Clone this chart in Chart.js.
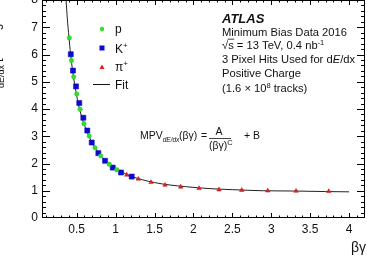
<!DOCTYPE html>
<html>
<head>
<meta charset="utf-8">
<script src="https://cdn.jsdelivr.net/npm/chart.js@4.4.0/dist/chart.umd.min.js"></script>
<style>
  html, body { margin: 0; padding: 0; background: #fff; }
  canvas { display: block; }
</style>
</head>
<body>
<canvas id="c" width="367" height="265"></canvas>
<script>
const FONT = '"Liberation Sans", Arial, Helvetica, sans-serif';

// 坐标轴刻度
const xTicks = [0.5, 1, 1.5, 2, 2.5, 3, 3.5, 4];
const yTicks = [0, 1, 2, 3, 4, 5, 6, 7, 8];

// βγ 与 MPV 读数
const pBG  = [0.405, 0.432, 0.461, 0.500, 0.543, 0.594, 0.661, 0.735, 0.808, 0.919, 1.014];
const pMPV = [6.61, 5.78, 5.18, 4.55, 3.99, 3.46, 3.01, 2.58, 2.28, 1.97, 1.77];

const kBG  = [0.424, 0.452, 0.491, 0.533, 0.585, 0.636, 0.693, 0.778, 0.864, 0.963, 1.069, 1.207];
const kMPV = [6.01, 5.41, 4.83, 4.22, 3.68, 3.21, 2.77, 2.38, 2.10, 1.85, 1.67, 1.52];

const piBG  = [1.143, 1.292, 1.455, 1.635, 1.837, 2.072, 2.329, 2.621, 2.955, 3.319, 3.739];
const piMPV = [1.58, 1.43, 1.31, 1.21, 1.14, 1.09, 1.04, 1.02, 1.00, 0.99, 0.98];

// 拟合曲线（沿曲线估读的点）
const fitBG  = [0.363, 0.38, 0.40, 0.42, 0.45, 0.48, 0.52, 0.56, 0.60, 0.65, 0.70, 0.76, 0.83, 0.90,
                1.0, 1.1, 1.2, 1.35, 1.5, 1.7, 1.9, 2.2, 2.5, 2.9, 3.3, 3.7, 4.0];
const fitMPV = [8.0, 7.3, 6.65, 6.05, 5.35, 4.8, 4.2, 3.75, 3.40, 3.05, 2.75, 2.48, 2.22, 2.04,
                1.82, 1.66, 1.53, 1.40, 1.30, 1.21, 1.15, 1.08, 1.04, 1.00, 0.99, 0.97, 0.96];

const zip = (xs, ys) => xs.map((x, i) => ({ x, y: ys[i] }));

// 依次绘制带上下标的文字片段：[text, font, dy]
function drawRich(ctx, x, y, parts) {
  let cx = x;
  parts.forEach(([t, f, dy]) => {
    ctx.font = f;
    ctx.fillText(t, cx, y + (dy || 0));
    cx += ctx.measureText(t).width;
  });
  return cx;
}

// 外框 + 四边向内的刻度（ROOT 风格）
const FrameTicksPlugin = {
  id: 'frameTicks',
  afterDatasetsDraw(chart) {
    const { ctx, chartArea: a, scales: { x, y } } = chart;
    ctx.save();
    ctx.strokeStyle = '#000';
    ctx.lineWidth = 1;
    ctx.strokeRect(a.left + 0.5, a.top + 0.5, a.right - a.left - 1, a.bottom - a.top - 1);
    ctx.beginPath();
    for (let i = 1; i <= 42; i++) {
      const px = Math.round(x.getPixelForValue(i / 10)) + 0.5;
      if (px <= a.left + 1 || px >= a.right - 1) continue;
      const len = i % 5 === 0 ? 5 : 2.5;
      ctx.moveTo(px, a.bottom); ctx.lineTo(px, a.bottom - len);
      ctx.moveTo(px, a.top); ctx.lineTo(px, a.top + len);
    }
    for (let i = 0; i <= 40; i++) {
      const py = Math.round(y.getPixelForValue(i / 5)) + 0.5;
      if (py <= a.top + 1 || py >= a.bottom - 1) continue;
      const len = i % 5 === 0 ? 8 : 4;
      ctx.moveTo(a.left, py); ctx.lineTo(a.left + len, py);
      ctx.moveTo(a.right, py); ctx.lineTo(a.right - len, py);
    }
    ctx.stroke();
    ctx.restore();
  }
};

// 文字：轴标题、图例、ATLAS 标签、公式
const TextPlugin = {
  id: 'texts',
  afterDraw(chart) {
    const { ctx } = chart;
    ctx.save();
    ctx.fillStyle = '#111';
    ctx.textAlign = 'left';
    ctx.textBaseline = 'alphabetic';

    // x 轴标题
    ctx.font = '14px ' + FONT;
    ctx.textAlign = 'right';
    ctx.fillText('βγ', 366, 252);
    ctx.textAlign = 'left';

    // y 轴标题（左侧被裁掉大半）
    ctx.save();
    ctx.translate(0, 114);
    ctx.rotate(-Math.PI / 2);
    drawRich(ctx, 0, 0, [
      ['MPV', '12px ' + FONT, 0],
      ['dE/dx', '9px ' + FONT, 4],
      [' [MeV g', '12px ' + FONT, 0],
      ['-1', '8px ' + FONT, -5],
      [' cm', '12px ' + FONT, 0],
      ['2', '8px ' + FONT, -5],
      [']', '12px ' + FONT, 0]
    ]);
    ctx.restore();

    // 图例
    ctx.fillStyle = '#2ee02e';
    ctx.beginPath(); ctx.arc(102, 29, 2.2, 0, Math.PI * 2); ctx.fill();
    ctx.fillStyle = '#0a0ad0';
    ctx.fillRect(99.5, 45.5, 5, 5);
    ctx.fillStyle = '#e02020';
    ctx.beginPath(); ctx.moveTo(102, 64.5); ctx.lineTo(104.6, 69); ctx.lineTo(99.4, 69); ctx.closePath(); ctx.fill();
    ctx.strokeStyle = '#111'; ctx.lineWidth = 1;
    ctx.beginPath(); ctx.moveTo(93, 84.5); ctx.lineTo(110, 84.5); ctx.stroke();
    ctx.fillStyle = '#111';
    const lf = '12px ' + FONT, ls = '8px ' + FONT;
    drawRich(ctx, 115, 32.5, [['p', lf, 0]]);
    drawRich(ctx, 115, 52.5, [['K', lf, 0], ['+', ls, -5]]);
    drawRich(ctx, 115, 71, [['π', lf, 0], ['+', ls, -5]]);
    drawRich(ctx, 115, 88.5, [['Fit', lf, 0]]);

    // ATLAS 标签
    ctx.font = 'bold italic 13px ' + FONT;
    ctx.fillText('ATLAS', 222, 22.5);
    const tf = '11.2px ' + FONT, tsup = '7.5px ' + FONT;
    drawRich(ctx, 222, 36, [['Minimum Bias Data 2016', tf, 0]]);
    const sx = drawRich(ctx, 222, 48.5, [['√', tf, 0]]);
    const ex = drawRich(ctx, sx, 48.5, [['s', tf, 0]]);
    ctx.lineWidth = 0.8;
    ctx.beginPath(); ctx.moveTo(sx - 0.5, 39.2); ctx.lineTo(ex + 0.5, 39.2); ctx.stroke();
    drawRich(ctx, ex, 48.5, [[' = 13 TeV, 0.4 nb', tf, 0], ['-1', tsup, -4]]);
    drawRich(ctx, 222, 63, [['3 Pixel Hits Used for d', tf, 0], ['E', 'italic 11.2px ' + FONT, 0], ['/dx', tf, 0]]);
    drawRich(ctx, 222, 77, [['Positive Charge', tf, 0]]);
    drawRich(ctx, 222, 92, [['(1.6 × 10', tf, 0], ['8', tsup, -4], [' tracks)', tf, 0]]);

    // 公式
    const ff = '10.5px ' + FONT;
    drawRich(ctx, 140, 139, [['MPV', ff, 0], ['dE/dx', 'italic 6.5px ' + FONT, 3]]);
    drawRich(ctx, 179, 139, [['(βγ)', ff, 0]]);
    drawRich(ctx, 201, 139, [['=', ff, 0]]);
    ctx.textAlign = 'center';
    ctx.font = ff;
    ctx.fillText('A', 219, 134.5);
    ctx.textAlign = 'left';
    ctx.lineWidth = 0.8;
    ctx.beginPath(); ctx.moveTo(209, 138.5); ctx.lineTo(231, 138.5); ctx.stroke();
    drawRich(ctx, 209, 149, [['(βγ)', ff, 0], ['C', '7.5px ' + FONT, -4]]);
    drawRich(ctx, 244, 139, [['+ B', ff, 0]]);
    ctx.restore();
  }
};

new Chart(document.getElementById('c'), {
  type: 'scatter',
  data: {
    datasets: [
      {
        label: 'p',
        data: zip(pBG, pMPV),
        pointStyle: 'circle',
        pointRadius: 2.2,
        backgroundColor: '#2ee02e',
        borderColor: '#25c025',
        borderWidth: 0.5
      },
      {
        label: 'K+',
        data: zip(kBG, kMPV),
        pointStyle: 'rect',
        pointRadius: 3.6,
        backgroundColor: '#0a0ad0',
        borderColor: '#0a0ab0',
        borderWidth: 0.5
      },
      {
        label: 'π+',
        data: zip(piBG, piMPV),
        pointStyle: 'triangle',
        pointRadius: 2.6,
        backgroundColor: '#e02020',
        borderColor: '#c01818',
        borderWidth: 0.5
      },
      {
        label: 'Fit',
        data: zip(fitBG, fitMPV),
        showLine: true,
        pointRadius: 0,
        borderColor: '#222',
        borderWidth: 1,
        cubicInterpolationMode: 'monotone',
        fill: false
      }
    ]
  },
  options: {
    responsive: false,
    animation: false,
    devicePixelRatio: 1,
    layout: { autoPadding: false, padding: { top: 0, right: 2, left: 0, bottom: 0 } },
    plugins: {
      legend: { display: false },
      tooltip: { enabled: false }
    },
    scales: {
      x: {
        type: 'linear',
        min: 0.054,
        max: 4.205,
        grid: { display: false, drawTicks: false },
        border: { display: false },
        ticks: {
          color: '#111',
          font: { family: FONT, size: 12 },
          padding: 4,
          autoSkip: false,
          maxRotation: 0,
          callback: v => String(v)
        },
        afterBuildTicks: s => { s.ticks = xTicks.map(v => ({ value: v })); },
        afterFit: s => { s.height = 47; s.paddingLeft = 0; s.paddingRight = 0; }
      },
      y: {
        type: 'linear',
        min: 0,
        max: 8,
        grid: { display: false, drawTicks: false },
        border: { display: false },
        ticks: {
          color: '#111',
          font: { family: FONT, size: 12 },
          padding: 4,
          autoSkip: false,
          callback: v => String(v)
        },
        afterBuildTicks: s => { s.ticks = yTicks.map(v => ({ value: v })); },
        // 去掉顶部为标签预留的空白，让 "8" 贴边被裁掉一半
        afterFit: s => { s.width = 42; s.paddingTop = 0; s.paddingBottom = 0; }
      }
    }
  },
  plugins: [FrameTicksPlugin, TextPlugin]
});
</script>
</body>
</html>
